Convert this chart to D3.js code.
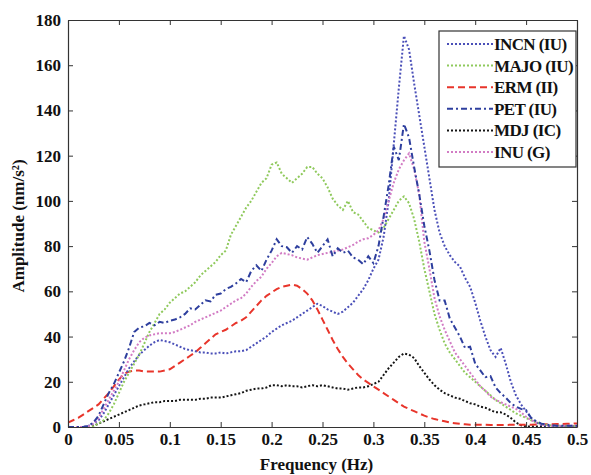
<!DOCTYPE html>
<html><head><meta charset="utf-8">
<script src="https://cdn.jsdelivr.net/npm/d3@7"></script>
<style>
html,body{margin:0;padding:0;background:#fff;}
svg{display:block;}
text{font-family:"Liberation Serif","Times New Roman",serif;}
</style></head>
<body>
<svg id="chart" width="591" height="475"></svg>
<script>
const freq = [0,0.005,0.01,0.015,0.02,0.025,0.03,0.035,0.04,0.045,0.05,0.055,0.06,0.065,0.07,0.075,0.08,0.085,0.09,0.095,
0.1,0.105,0.11,0.115,0.12,0.125,0.13,0.135,0.14,0.145,0.15,0.155,0.16,0.165,0.17,0.175,0.18,0.185,0.19,0.195,
0.2,0.205,0.21,0.215,0.22,0.225,0.23,0.235,0.24,0.245,0.25,0.255,0.26,0.265,0.27,0.275,0.28,0.285,0.29,0.295,
0.3,0.305,0.31,0.315,0.32,0.325,0.33,0.335,0.34,0.345,0.35,0.355,0.36,0.365,0.37,0.375,0.38,0.385,0.39,0.395,
0.4,0.405,0.41,0.415,0.42,0.425,0.43,0.435,0.44,0.445,0.45,0.455,0.46,0.465,0.47,0.475,0.48,0.485,0.49,0.495,0.5];

const incn = [0,0,0,0,0.5,1.5,3,6,10,14,18,22,26,29,32,34,36,37.5,38.5,38,
37.5,36.5,35.5,34.5,34,33.5,33,33,32.5,32.5,33,32.5,33,33.5,33.5,34,35.5,37,38.5,40,
42,43.5,45,46,47,48.5,50,51.5,53,54.5,53.5,52,51,50,51,53,55,58,61,65,
70,74,84,100,125,150,173,167,152,138,124,110,96,86,80,76,73,71,66,62,
55,47,40,34,31,35,28,20,14,10,7,4,2,1,0.5,0.3,0.3,0.2,0.2,0.2,0.2];

const majo = [0,0,0,0,0,0.3,1.5,3,6,10,15,20,24,28,32,37,42,46,50,52,
55,57,59,60,62,64,67,69,71,73,76,78,85,89,93,97,100,104,108,110,
116,117,112,110,108,110,112,115,115,112,110,106,101,98,96,100,95,94,91,88,
87,86,88,92,96,100,102,99,92,82,70,60,50,43,37,33,30,27,24,22,
20,18,16,14,12,10.5,9,7.5,6,5,4,3,2,1.5,1,0.7,0.5,0.5,0.4,0.4,0.4];

const erm = [2,3,4,5.5,7,8.5,10,12.5,15,18,21,23.5,24.5,25,25,24.5,24.5,24.5,24.5,25,
25.5,27,28.5,30,31.5,33,35,37,39,41,42,43,44.5,46,47,48.5,51,53.5,56,58,
59.5,61,62,62.5,63,62.5,61,59,56,52,47.5,43,38.5,34.5,31,28,25.5,23,21,19.5,
18,16.5,15,13.5,12,10.5,9,8,7,6,5,4.2,3.5,3,2.5,2,1.7,1.4,1.2,1,
1,1,1,0.9,0.9,0.9,0.9,1,1,1,1,1,1.1,1.1,1.2,1.2,1.3,1.3,1.4,1.5,1.6];

const pet = [0,0,0,0,0.5,2,5,10,15,19,24,29,35,42,44,44.5,46,45,46.5,46,
47,47.5,48.5,50,52.5,52,54,56,55.5,58.5,59,61,62,63.5,65.5,64,69,71.5,69,74,
78,83,80,79.5,77,80,78.5,84,81,77,80,83,75.5,79,77,78,75,74,72,75.5,
72.5,80,93,107,124,118,134,128,115,103,89,78,65,56,56,48,44,40,35,35.5,
28,25,22,22.5,17.5,15,13,10.5,9,8,7.5,4,2.5,1.5,1,0.8,0.6,0.5,0.5,0.5,0.5];

const mdj = [0,0,0,0,0,0.5,1.5,2.5,3.5,4.5,5.5,6.5,7.5,8.5,9.5,10,10.5,11,11,11.5,
11.5,11.5,12,12,12,12,12.5,12.5,13,13,13,13.5,14,14.5,15,16,16.5,17,17,17.5,
18.5,18.5,18,18.5,18,18,17.5,18,18.5,18,18.5,18,17.5,17,17,16.5,17,17.5,17.5,18,
19,20,23,26,28.5,31,32.5,32,30.5,27,24,21,18.5,16.5,15,14,13,12.5,11.5,10.5,
10,9,8.5,7.5,6.5,6.5,5.5,4,2,0.8,0.3,0.2,0.2,0.2,0.2,0.2,0.2,0.2,0.2,0.2,0.2];

const inu = [0,0,0,0,0.3,1.5,4,8,12,16,20,25,30,34,37.5,39.5,40.5,41,41.5,41.5,
41.5,42,43,44,45,46.5,47.5,48.5,49.5,50.5,51.5,53,54.5,56,57,59,62,64.5,66.5,70,
72.5,75.5,77,76.5,76,75,74.5,74,75,76,76.5,77,77.5,78,78.5,79.5,80.5,82,83,83.5,
85,87,92,100,108,114,118,121,114,103,82,70,57,49,43,38,33,30,27,24,
21,18,16,13.5,12,11,10,9,8,6.5,4.5,3,2,1.2,0.8,0.6,0.5,0.5,0.5,0.5,0.5];

const seriesNames = ["INCN (IU)","MAJO (IU)","ERM (II)","PET (IU)","MDJ (IC)","INU (G)"];
const seriesValues = [incn, majo, erm, pet, mdj, inu];
const seriesColors = ["#4a4fb8","#8fc95c","#e8352b","#2e3f9e","#141414","#d27cc4"];
const seriesDash = ["2,2","2,2","7,4","6,3,2,3","2,2","2,2"];

const xTicks = [0,0.05,0.1,0.15,0.2,0.25,0.3,0.35,0.4,0.45,0.5];
const xTickLabels = ["0","0.05","0.1","0.15","0.2","0.25","0.3","0.35","0.4","0.45","0.5"];
const yTicks = [0,20,40,60,80,100,120,140,160,180];
const yTickLabels = ["0","20","40","60","80","100","120","140","160","180"];

const svg = d3.select("#chart");
const L = 68, R = 577, T = 20, B = 427;
const x = d3.scaleLinear().domain([0,0.5]).range([L,R]);
const y = d3.scaleLinear().domain([0,180]).range([B,T]);

// clip
svg.append("defs").append("clipPath").attr("id","clip")
  .append("rect").attr("x",L).attr("y",T).attr("width",R-L).attr("height",B-T);

const line = d3.line().x((d,i)=>x(freq[i])).y(d=>y(d));

const g = svg.append("g").attr("clip-path","url(#clip)");
// draw order: bottom first
const order = [4,2,0,1,5,3];
order.forEach(k=>{
  g.append("path").datum(seriesValues[k])
    .attr("d",line)
    .attr("fill","none")
    .attr("stroke",seriesColors[k])
    .attr("stroke-width",2)
    .attr("stroke-dasharray",seriesDash[k]);
});

// axes
const fmtX = (d)=> xTickLabels[xTicks.indexOf(d)];
const fmtY = (d)=> yTickLabels[yTicks.indexOf(d)];
const ax = svg.append("g").attr("transform",`translate(0,${B})`)
  .call(d3.axisBottom(x).tickValues(xTicks).tickFormat(fmtX).tickSize(-5).tickSizeOuter(0).tickPadding(6));
const ay = svg.append("g").attr("transform",`translate(${L},0)`)
  .call(d3.axisLeft(y).tickValues(yTicks).tickFormat(fmtY).tickSize(-5).tickSizeOuter(0).tickPadding(6));
const at = svg.append("g").attr("transform",`translate(0,${T})`)
  .call(d3.axisTop(x).tickValues(xTicks).tickFormat("").tickSize(-5).tickSizeOuter(0));
const ar = svg.append("g").attr("transform",`translate(${R},0)`)
  .call(d3.axisRight(y).tickValues(yTicks).tickFormat("").tickSize(-5).tickSizeOuter(0));
[ax,ay,at,ar].forEach(a=>{
  a.selectAll(".domain").attr("stroke","#333").attr("stroke-width",1.2);
  a.selectAll(".tick line").attr("stroke","#333").attr("stroke-width",1);
  a.selectAll("text").attr("font-family","'Liberation Serif',serif")
    .attr("font-size",17).attr("font-weight","bold").attr("fill","#111");
});
ay.selectAll("text").attr("dx",-1);

// titles
svg.append("text").attr("x",(L+R)/2 - 6).attr("y",470)
  .attr("text-anchor","middle").attr("font-size",17).attr("font-weight","bold").attr("fill","#111")
  .text("Frequency (Hz)");
svg.append("text").attr("transform","translate(24,226) rotate(-90)")
  .attr("text-anchor","middle").attr("font-size",17).attr("font-weight","bold").attr("fill","#111")
  .text("Amplitude (nm/s²)");

// legend
const lg = svg.append("g");
lg.append("rect").attr("x",439).attr("y",31).attr("width",137).attr("height",136)
  .attr("fill","#fff").attr("stroke","#333").attr("stroke-width",1.2);
seriesNames.forEach((n,i)=>{
  const yy = 44 + i*21.6;
  lg.append("line").attr("x1",447).attr("x2",493).attr("y1",yy).attr("y2",yy)
    .attr("stroke",seriesColors[i]).attr("stroke-width",2).attr("stroke-dasharray",seriesDash[i]);
  lg.append("text").attr("x",494).attr("y",yy+6).attr("font-size",17).attr("font-weight","bold")
    .attr("fill","#111").attr("letter-spacing",-0.6).text(n);
});
</script>
</body></html>
